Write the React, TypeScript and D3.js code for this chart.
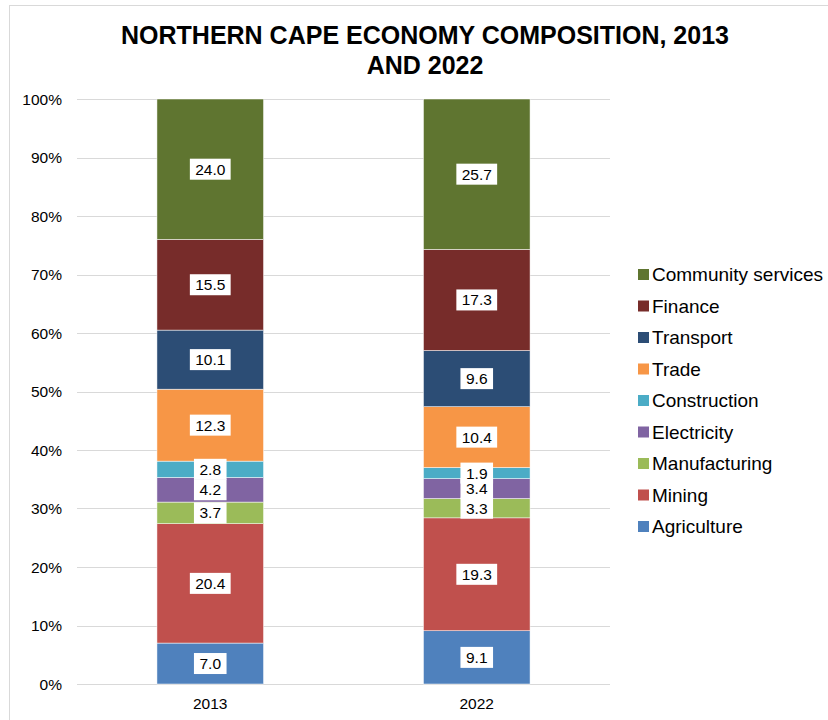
import React, { useEffect, useRef } from 'react';
import * as d3 from 'd3';

const years = ['2013', '2022'];
const sectors = [
  'Agriculture',
  'Mining',
  'Manufacturing',
  'Electricity',
  'Construction',
  'Trade',
  'Transport',
  'Finance',
  'Community services',
];
const values2013 = [7.0, 20.4, 3.7, 4.2, 2.8, 12.3, 10.1, 15.5, 24.0];
const values2022 = [9.1, 19.3, 3.3, 3.4, 1.9, 10.4, 9.6, 17.3, 25.7];
const colors = [
  '#4F81BD',
  '#C0504D',
  '#9BBB59',
  '#8064A2',
  '#4BACC6',
  '#F79646',
  '#2C4D75',
  '#772C2A',
  '#5F7530',
];
const yTicks = [0, 10, 20, 30, 40, 50, 60, 70, 80, 90, 100];

const App: React.FC = () => {
  const svgRef = useRef<SVGSVGElement>(null);

  useEffect(() => {
    if (!svgRef.current) return;
    const svg = d3.select(svgRef.current);
    svg.selectAll('*').remove();

    const width = 828;
    const height = 720;
    const font = 'Liberation Sans, Arial, sans-serif';

    // outer chart border
    svg
      .append('rect')
      .attr('x', 9.5)
      .attr('y', 5.5)
      .attr('width', 840)
      .attr('height', 740)
      .attr('fill', 'white')
      .attr('stroke', '#D9D9D9');

    // title
    const title = svg
      .append('text')
      .attr('text-anchor', 'middle')
      .attr('font-family', font)
      .attr('font-weight', 'bold')
      .attr('font-size', 25)
      .attr('fill', '#000');
    title.append('tspan').attr('x', 425).attr('y', 44).text('NORTHERN CAPE ECONOMY COMPOSITION, 2013');
    title.append('tspan').attr('x', 425).attr('y', 74).text('AND 2022');

    const x0 = 77;
    const x1 = 610;
    const y = d3.scaleLinear().domain([0, 100]).range([684, 99]);
    const x = d3.scaleBand().domain(years).range([x0, x1]).paddingInner(0.6).paddingOuter(0.3);

    // gridlines
    svg
      .append('g')
      .selectAll('line')
      .data(yTicks)
      .join('line')
      .attr('x1', x0)
      .attr('x2', x1)
      .attr('y1', (d) => Math.round(y(d)) + 0.5)
      .attr('y2', (d) => Math.round(y(d)) + 0.5)
      .attr('stroke', '#D9D9D9')
      .attr('stroke-width', 1);

    // y tick labels
    svg
      .append('g')
      .selectAll('text')
      .data(yTicks)
      .join('text')
      .attr('x', 62)
      .attr('y', (d) => y(d) + 5.5)
      .attr('text-anchor', 'end')
      .attr('font-family', font)
      .attr('font-size', 15.5)
      .attr('fill', '#000')
      .text((d) => `${d}%`);

    // x labels
    svg
      .append('g')
      .selectAll('text')
      .data(years)
      .join('text')
      .attr('x', (d) => (x(d) as number) + x.bandwidth() / 2)
      .attr('y', 709)
      .attr('text-anchor', 'middle')
      .attr('font-family', font)
      .attr('font-size', 15.5)
      .attr('fill', '#000')
      .text((d) => d);

    const series = [values2013, values2022];
    const barLayer = svg.append('g');
    const labelLayer = svg.append('g');
    years.forEach((yr, yi) => {
      const vals = series[yi];
      const stack = d3.cumsum(vals);
      vals.forEach((v, i) => {
        const top = stack[i];
        const bottom = top - v;
        barLayer
          .append('rect')
          .attr('x', x(yr) as number)
          .attr('width', x.bandwidth())
          .attr('y', y(top))
          .attr('height', y(bottom) - y(top))
          .attr('fill', colors[i])
          .attr('stroke', 'white')
          .attr('stroke-width', 0.5);
      });
      vals.forEach((v, i) => {
        const mid = stack[i] - v / 2;
        const cx = (x(yr) as number) + x.bandwidth() / 2;
        const cy = y(mid);
        const txt = v.toFixed(1);
        const w = txt.length * 8.2 + 8;
        labelLayer
          .append('rect')
          .attr('x', cx - w / 2)
          .attr('y', cy - 10.5)
          .attr('width', w)
          .attr('height', 21)
          .attr('fill', 'white');
        labelLayer
          .append('text')
          .attr('x', cx)
          .attr('y', cy + 5.5)
          .attr('text-anchor', 'middle')
          .attr('font-family', font)
          .attr('font-size', 15.5)
          .attr('fill', '#000')
          .text(txt);
      });
    });

    // legend (top to bottom: reverse order)
    const legend = svg.append('g');
    const legendItems = sectors.map((s, i) => ({ s, c: colors[i] })).reverse();
    legendItems.forEach((d, i) => {
      const ly = 274 + i * 31.5;
      legend
        .append('rect')
        .attr('x', 638)
        .attr('y', ly - 5)
        .attr('width', 11)
        .attr('height', 11)
        .attr('fill', d.c);
      legend
        .append('text')
        .attr('x', 652)
        .attr('y', ly + 7)
        .attr('font-family', font)
        .attr('font-size', 19)
        .attr('fill', '#000')
        .text(d.s);
    });

    svg.attr('width', width).attr('height', height);
  }, []);

  return (
    <svg
      ref={svgRef}
      style={{ position: 'absolute', left: 0, top: 0, display: 'block', background: 'white' }}
    ></svg>
  );
};

export default App;
